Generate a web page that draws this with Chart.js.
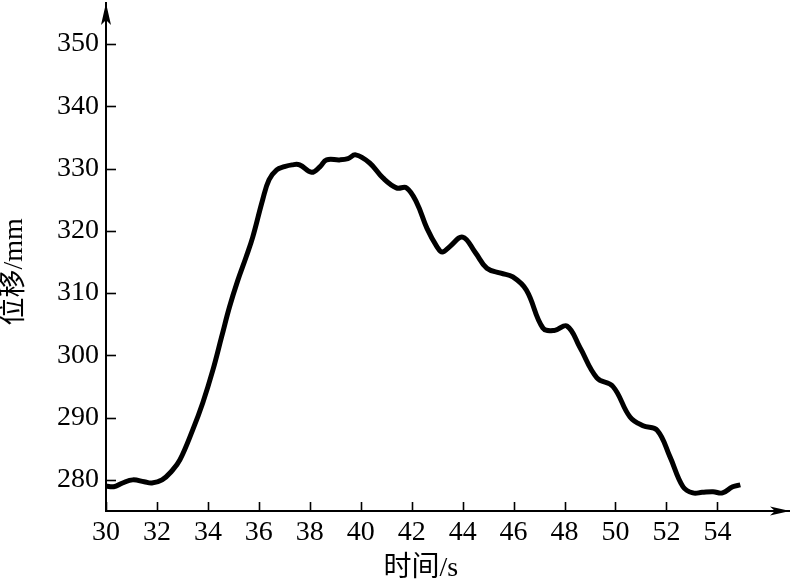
<!DOCTYPE html>
<html>
<head>
<meta charset="utf-8">
<script src="https://cdn.jsdelivr.net/npm/chart.js@4.4.1/dist/chart.umd.min.js"></script>
<style>
  html, body { margin: 0; padding: 0; background: #fff; }
  #wrap { width: 790px; height: 584px; position: relative; }
</style>
</head>
<body>
<div id="wrap"><canvas id="c"></canvas></div>
<script>
const times = [30, 30.3, 30.65, 31.05, 31.5, 31.8, 32.2, 32.6, 32.9, 33.4, 33.8, 34.2, 34.54, 34.85, 35.17, 35.5, 35.76, 36.15, 36.4, 36.7, 37.0, 37.3, 37.6, 38.07, 38.4, 38.66, 39.17, 39.5, 39.8, 40.35, 40.87, 41.4, 41.8, 42.2, 42.6, 43.0, 43.2, 43.5, 44.0, 44.5, 44.95, 45.5, 45.97, 46.5, 47.15, 47.6, 48.1, 48.6, 49.27, 49.9, 50.57, 51.08, 51.63, 52.14, 52.65, 53.04, 53.4, 53.83, 54.2, 54.6, 54.9];
const displacement = [279.0, 278.9, 279.5, 280.0, 279.7, 279.5, 280.0, 281.5, 283.2, 288.0, 292.4, 297.7, 303.0, 307.8, 312.0, 315.8, 319.0, 325.0, 328.2, 329.8, 330.3, 330.6, 330.6, 329.4, 330.3, 331.4, 331.4, 331.6, 332.2, 330.9, 328.5, 326.9, 326.9, 324.5, 320.4, 317.4, 316.6, 317.5, 319.0, 316.5, 314.0, 313.2, 312.6, 310.5, 304.4, 304.0, 304.7, 301.3, 296.4, 295.0, 290.1, 288.7, 288.0, 283.7, 278.9, 277.9, 278.0, 278.1, 277.9, 278.9, 279.2];
const xTicks = [30, 32, 34, 36, 38, 40, 42, 44, 46, 48, 50, 52, 54];
const yTicks = [280, 290, 300, 310, 320, 330, 340, 350];
const xTitle = '时间/s';
const yTitle = '位移/mm';

const serif = '"Liberation Serif", "Noto Sans CJK SC", serif';

// inward tick marks, arrow heads and axis titles
const axisDecor = {
    id: 'axisDecor',
    afterDraw(chart) {
        const ctx = chart.ctx;
        const xs = chart.scales.x, ys = chart.scales.y;
        const area = chart.chartArea;
        ctx.save();
        ctx.strokeStyle = '#000';
        ctx.fillStyle = '#000';
        ctx.lineWidth = 1.6;
        xTicks.forEach(v => {
            const px = Math.round(xs.getPixelForValue(v)) + 0.5;
            ctx.beginPath();
            ctx.moveTo(px, area.bottom);
            ctx.lineTo(px, area.bottom - 9);
            ctx.stroke();
        });
        yTicks.forEach(v => {
            const py = Math.round(ys.getPixelForValue(v)) + 0.5;
            ctx.beginPath();
            ctx.moveTo(area.left, py);
            ctx.lineTo(area.left + 10, py);
            ctx.stroke();
        });
        // y arrow
        ctx.beginPath();
        ctx.moveTo(area.left, area.top);
        ctx.lineTo(area.left - 5, area.top + 22);
        ctx.lineTo(area.left, area.top + 17);
        ctx.lineTo(area.left + 5, area.top + 22);
        ctx.closePath();
        ctx.fill();
        // x arrow
        ctx.beginPath();
        ctx.moveTo(area.right, area.bottom);
        ctx.lineTo(area.right - 20, area.bottom - 4.5);
        ctx.lineTo(area.right - 15, area.bottom);
        ctx.lineTo(area.right - 20, area.bottom + 4.5);
        ctx.closePath();
        ctx.fill();
        // titles
        ctx.font = '28px ' + serif;
        ctx.textAlign = 'center';
        ctx.textBaseline = 'middle';
        ctx.fillText(xTitle, xs.getPixelForValue(42.36), 569);
        ctx.translate(15, ys.getPixelForValue(313.4));
        ctx.rotate(-Math.PI / 2);
        ctx.fillText(yTitle, 0, 0);
        ctx.restore();
    }
};

new Chart(document.getElementById('c'), {
    type: 'line',
    data: {
        datasets: [{
            data: times.map((t, i) => ({ x: t, y: displacement[i] })),
            borderColor: '#000',
            borderWidth: 5,
            pointRadius: 0,
            tension: 0.4,
            fill: false
        }]
    },
    options: {
        responsive: true,
        maintainAspectRatio: false,
        animation: false,
        layout: { padding: { top: 3, right: 0, left: 0, bottom: 0 } },
        plugins: {
            legend: { display: false },
            tooltip: { enabled: false }
        },
        scales: {
            x: {
                type: 'linear',
                min: 30,
                max: 56.85,
                afterBuildTicks: s => { s.ticks = xTicks.map(v => ({ value: v })); },
                afterFit: s => { s.height = 73; s.paddingLeft = 0; s.paddingRight = 0; },
                grid: { drawOnChartArea: false, drawTicks: false },
                border: { display: true, color: '#000', width: 2 },
                ticks: {
                    padding: 5,
                    maxRotation: 0,
                    autoSkip: false,
                    color: '#000',
                    font: { family: serif, size: 28 }
                }
            },
            y: {
                type: 'linear',
                min: 275,
                max: 356.6,
                afterBuildTicks: s => { s.ticks = yTicks.map(v => ({ value: v })); },
                afterFit: s => { s.width = 106; s.paddingTop = 0; s.paddingBottom = 0; },
                grid: { drawOnChartArea: false, drawTicks: false },
                border: { display: true, color: '#000', width: 2 },
                ticks: {
                    padding: 7,
                    autoSkip: false,
                    color: '#000',
                    font: { family: serif, size: 28 }
                }
            }
        }
    },
    plugins: [axisDecor]
});
</script>
</body>
</html>
